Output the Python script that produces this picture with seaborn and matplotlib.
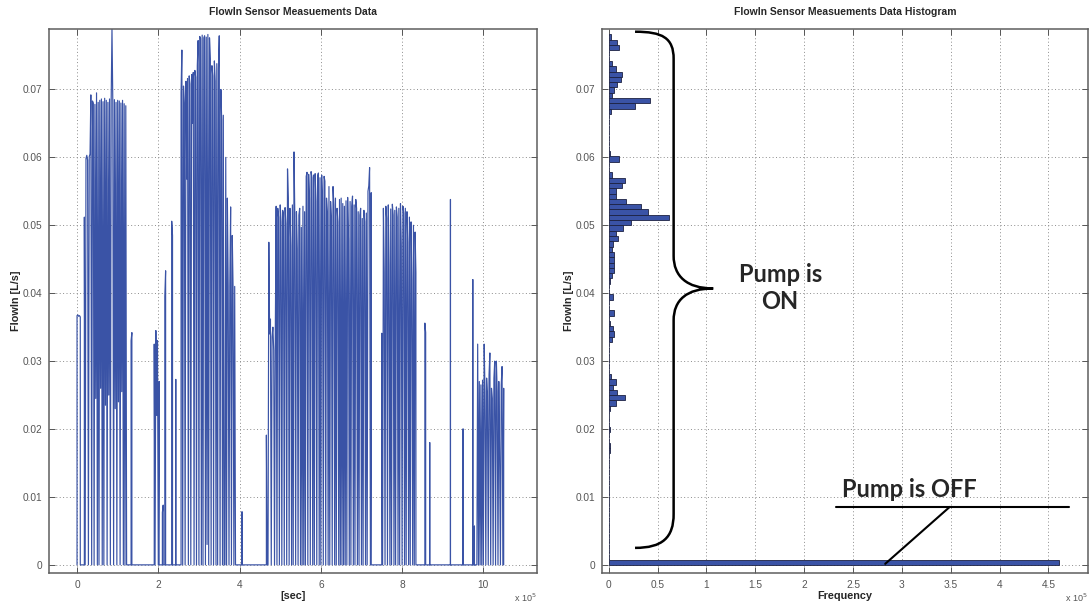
import numpy as np
import pandas as pd
import matplotlib
matplotlib.use("Agg")
import matplotlib.pyplot as plt
from matplotlib.path import Path
from matplotlib.patches import PathPatch
from matplotlib.ticker import FixedLocator, FuncFormatter
import seaborn as sns

sns.set_style("ticks")
plt.rcParams["font.family"] = ["Liberation Sans", "DejaVu Sans"]

# ---------------------------------------------------------------------------
# FlowIn readings [L/s]. Each pumping episode is a start time [s] followed by
# readings taken every DT seconds; the signal is zero outside the episodes.
# ---------------------------------------------------------------------------
DT = 2000.0

episode_start = [18000, 256000, 466000, 750000, 984000]

episode_a = [0.0512, 0.0, 0.0598, 0.0603, 0.0596, 0.0, 0.0601, 0.0605,
             0.0692, 0.0, 0.0683, 0.0680, 0.0, 0.0678, 0.0245, 0.0695, 0.0,
             0.0681, 0.0, 0.0684, 0.0260, 0.0686, 0.0, 0.0682, 0.0, 0.0687,
             0.0235, 0.0684, 0.0, 0.0681, 0.0250, 0.0686, 0.0, 0.0683, 0.0790,
             0.0682, 0.0, 0.0685, 0.0230, 0.0681, 0.0, 0.0684, 0.0240, 0.0683,
             0.0, 0.0680, 0.0255, 0.0684, 0.0, 0.0679, 0.0, 0.0676, 0.0]

episode_b = [0.0695, 0.0758, 0.0, 0.0705, 0.0680, 0.0, 0.0712, 0.0568,
             0.0716, 0.0, 0.0720, 0.0708, 0.0, 0.0722, 0.0650, 0.0725, 0.0,
             0.0728, 0.0718, 0.0, 0.0735, 0.0772, 0.0, 0.0778, 0.0775, 0.0,
             0.0780, 0.0, 0.0776, 0.0779, 0.0, 0.0777, 0.0030, 0.0781, 0.0,
             0.0776, 0.0745, 0.0, 0.0735, 0.0720, 0.0, 0.0742, 0.0712, 0.0,
             0.0738, 0.0, 0.0730, 0.0779, 0.0, 0.0700, 0.0655, 0.0, 0.0662,
             0.0, 0.0, 0.0600, 0.0, 0.0540, 0.0410, 0.0, 0.0412, 0.0527, 0.0,
             0.0485, 0.0408, 0.0, 0.0410, 0.0, 0.0]

episode_c = [0.0191, 0.0, 0.0, 0.0475, 0.0340, 0.0362, 0.0, 0.0336, 0.0350,
             0.0316, 0.0, 0.0345, 0.0528, 0.0, 0.0525, 0.0512, 0.0, 0.0530,
             0.0505, 0.0, 0.0522, 0.0518, 0.0, 0.0526, 0.0502, 0.0, 0.0583,
             0.0540, 0.0, 0.0525, 0.0470, 0.0, 0.0530, 0.0, 0.0608, 0.0512,
             0.0, 0.0520, 0.0465, 0.0, 0.0515, 0.0525, 0.0, 0.0497, 0.0,
             0.0528, 0.0, 0.0520, 0.0, 0.0572, 0.0578, 0.0, 0.0575, 0.0540,
             0.0, 0.0579, 0.0570, 0.0, 0.0574, 0.0, 0.0576, 0.0535, 0.0,
             0.0573, 0.0577, 0.0, 0.0570, 0.0, 0.0574, 0.0540, 0.0, 0.0572,
             0.0565, 0.0, 0.0540, 0.0520, 0.0, 0.0557, 0.0, 0.0535, 0.0510,
             0.0, 0.0557, 0.0530, 0.0, 0.0540, 0.0, 0.0525, 0.0505, 0.0,
             0.0538, 0.0, 0.0540, 0.0, 0.0532, 0.0, 0.0528, 0.0, 0.0536, 0.0,
             0.0541, 0.0480, 0.0, 0.0535, 0.0, 0.0528, 0.0543, 0.0, 0.0530,
             0.0, 0.0538, 0.0525, 0.0, 0.0520, 0.0, 0.0515, 0.0525, 0.0,
             0.0510, 0.0, 0.0522, 0.0505, 0.0, 0.0518, 0.0, 0.0550, 0.0558,
             0.0585, 0.0, 0.0548]

episode_d = [0.0341, 0.0, 0.0525, 0.0430, 0.0, 0.0528, 0.0510, 0.0, 0.0530,
             0.0440, 0.0, 0.0524, 0.0, 0.0531, 0.0515, 0.0, 0.0522, 0.0,
             0.0527, 0.0512, 0.0, 0.0525, 0.0, 0.0532, 0.0470, 0.0, 0.0528,
             0.0518, 0.0, 0.0525, 0.0, 0.0520, 0.0475, 0.0, 0.0512, 0.0,
             0.0505, 0.0420, 0.0, 0.0500, 0.0, 0.0490, 0.0430]

episode_e = [0.0, 0.0325, 0.0, 0.0270, 0.0, 0.0265, 0.0, 0.0272, 0.0, 0.0325,
             0.0255, 0.0, 0.0275, 0.0250, 0.0, 0.0280, 0.0312, 0.0, 0.0260,
             0.0245, 0.0, 0.0275, 0.0300, 0.0, 0.0300, 0.0255, 0.0, 0.0270,
             0.0160, 0.0, 0.0265, 0.0292, 0.0, 0.0260]

# short isolated bursts between the episodes
burst_start = [0, 133000, 190000, 210000, 216000, 233000, 243000, 406000,
               856000, 868000, 919000, 950000, 974000, 978000]
burst_flow = [[0.0367, 0.0368, 0.0366, 0.0367, 0.0365],
              [0.0330, 0.0342],
              [0.0325, 0.0, 0.0345, 0.0220, 0.0330, 0.0, 0.0270],
              [0.0077, 0.0088],
              [0.0395, 0.0433],
              [0.0506, 0.0485],
              [0.0273],
              [0.0078],
              [0.0356, 0.0342],
              [0.0180],
              [0.0538],
              [0.0200],
              [0.0420],
              [0.0057]]

# histogram of all FlowIn samples: 100 equal bins starting at 0 L/s
BIN_W = 0.000781
flow_counts = [460500, 300, 200, 200, 300, 200, 400, 300, 400, 300,
               400, 300, 400, 200, 200, 300, 200, 300, 200, 300,
               400, 1000, 1100, 300, 400, 1500, 300, 300, 400, 1400,
               7800, 16300, 8500, 4400, 7800, 2700, 300, 200, 800, 300,
               300, 300, 3000, 5100, 4400, 1200, 500, 5800, 500, 600,
               4400, 800, 600, 1500, 3000, 5400, 5100, 5100, 5100, 3000,
               4400, 9500, 7500, 14600, 22800, 61900, 39800, 33000, 18000, 7800,
               7800, 14000, 17000, 3400, 600, 600, 10500, 1700, 400, 300,
               200, 200, 300, 300, 500, 2400, 27200, 42500, 3700, 5400,
               8500, 12600, 13600, 7800, 3000, 400, 400, 10200, 8500, 2700]

flow_ticks = [0, 0.01, 0.02, 0.03, 0.04, 0.05, 0.06, 0.07]
time_ticks = [0, 2e5, 4e5, 6e5, 8e5, 10e5]
freq_ticks = [0, 0.5e5, 1e5, 1.5e5, 2e5, 2.5e5, 3e5, 3.5e5, 4e5, 4.5e5]

BLUE = "#3a53a6"
EDGE = "#1d2242"
GREY = "#555555"

# ---------------------------------------------------------------------------
# assemble the sampled series (zero baseline between the bursts)
# ---------------------------------------------------------------------------
segments = list(zip(burst_start, burst_flow))
segments += list(zip(episode_start, [episode_a, episode_b, episode_c,
                                     episode_d, episode_e]))
segments.sort(key=lambda seg: seg[0])

t_all, q_all = [], []
for start, vals in segments:
    times = start + DT * np.arange(len(vals))
    t_all += [start] + list(times) + [times[-1]]
    q_all += [0.0] + list(vals) + [0.0]
series = pd.DataFrame({"time": t_all, "flow": q_all})

n_bins = len(flow_counts)
hist_table = pd.DataFrame({"flow": BIN_W * (np.arange(n_bins) + 0.5),
                           "count": flow_counts})

# ---------------------------------------------------------------------------
fig = plt.figure(figsize=(10.92, 6.05), dpi=100)
ax1 = fig.add_axes([49 / 1092, 32 / 605, 488 / 1092, 544 / 605])
ax2 = fig.add_axes([602 / 1092, 32 / 605, 486 / 1092, 544 / 605])

sns.lineplot(data=series, x="time", y="flow", ax=ax1, estimator=None,
             sort=False, color=BLUE, lw=0.85)

sns.histplot(data=hist_table, y="flow", weights="count", binwidth=BIN_W,
             binrange=(0, BIN_W * n_bins), ax=ax2,
             color=BLUE, edgecolor=EDGE, linewidth=0.6, alpha=1.0)


def style_axes(ax, xticks, xlim):
    ax.set_ylim(-0.0012, 0.0789)
    ax.set_xlim(*xlim)
    ax.xaxis.set_major_locator(FixedLocator(xticks))
    ax.yaxis.set_major_locator(FixedLocator(flow_ticks))
    ax.xaxis.set_major_formatter(FuncFormatter(lambda v, p: f"{v / 1e5:g}"))
    ax.yaxis.set_major_formatter(FuncFormatter(lambda v, p: f"{v:g}"))
    ax.grid(True, linestyle=(0, (1, 2.5)), color="#8c8c8c", lw=0.7)
    ax.set_axisbelow(True)
    ax.tick_params(direction="in", top=True, right=True, length=4,
                   width=0.7, color="#555555", labelsize=7.3,
                   labelcolor=GREY, pad=5)
    for sp in ax.spines.values():
        sp.set_visible(True)
        sp.set_color("#5e5e5e")
        sp.set_linewidth(1.1)
    ax.set_ylabel("FlowIn [L/s]", fontsize=7.8, fontweight="bold", labelpad=1)
    ax.text(1.0, -0.046, r"x 10$^{5}$", transform=ax.transAxes, ha="right",
            va="center", fontsize=6.5, color=GREY)


style_axes(ax1, time_ticks, (-0.69e5, 11.32e5))
style_axes(ax2, freq_ticks, (-0.068e5, 4.905e5))

ax1.set_xlabel("[sec]", fontsize=7.8, fontweight="bold", labelpad=1)
ax2.set_xlabel("Frequency", fontsize=7.8, fontweight="bold", labelpad=1)
ax1.set_title("FlowIn Sensor Measuements Data", fontsize=7.5,
              fontweight="bold", pad=10)
ax2.set_title("FlowIn Sensor Measuements Data Histogram", fontsize=7.5,
              fontweight="bold", pad=10)

# curly brace grouping the non-zero flow bins
brace_x, brace_tip_x, brace_end_x = 0.665e5, 1.07e5, 0.27e5
brace_top, brace_mid, brace_bot = 0.0785, 0.0407, 0.0025
verts = [(brace_end_x, brace_top),
         (0.55e5, brace_top), (brace_x, 0.0776), (brace_x, 0.0745),
         (brace_x, 0.0455),
         (brace_x, 0.0425), (0.80e5, brace_mid), (brace_tip_x, brace_mid),
         (0.80e5, brace_mid), (brace_x, 0.0390), (brace_x, 0.0360),
         (brace_x, 0.0075),
         (brace_x, 0.0040), (0.55e5, brace_bot), (brace_end_x, brace_bot)]
codes = [Path.MOVETO,
         Path.CURVE4, Path.CURVE4, Path.CURVE4,
         Path.LINETO,
         Path.CURVE4, Path.CURVE4, Path.CURVE4,
         Path.CURVE4, Path.CURVE4, Path.CURVE4,
         Path.LINETO,
         Path.CURVE4, Path.CURVE4, Path.CURVE4]
ax2.add_patch(PathPatch(Path(verts, codes), facecolor="none",
                        edgecolor="black", lw=1.8, clip_on=False))

ann_font = ["Lato", "DejaVu Sans"]
ax2.text(1.755e5, 0.0408, "Pump is\nON", ha="center", va="center",
         fontsize=17, fontweight="bold", family=ann_font, linespacing=1.2)
ax2.text(3.08e5, 0.0100, "Pump is OFF", ha="center", va="baseline",
         fontsize=17, fontweight="bold", family=ann_font)
ax2.plot([2.33e5, 4.71e5], [0.00853, 0.00853], color="black", lw=1.5,
         clip_on=False)
ax2.plot([3.49e5, 2.83e5], [0.00853, 0.00015], color="black", lw=1.5)

fig.savefig("out.png", dpi=100)
